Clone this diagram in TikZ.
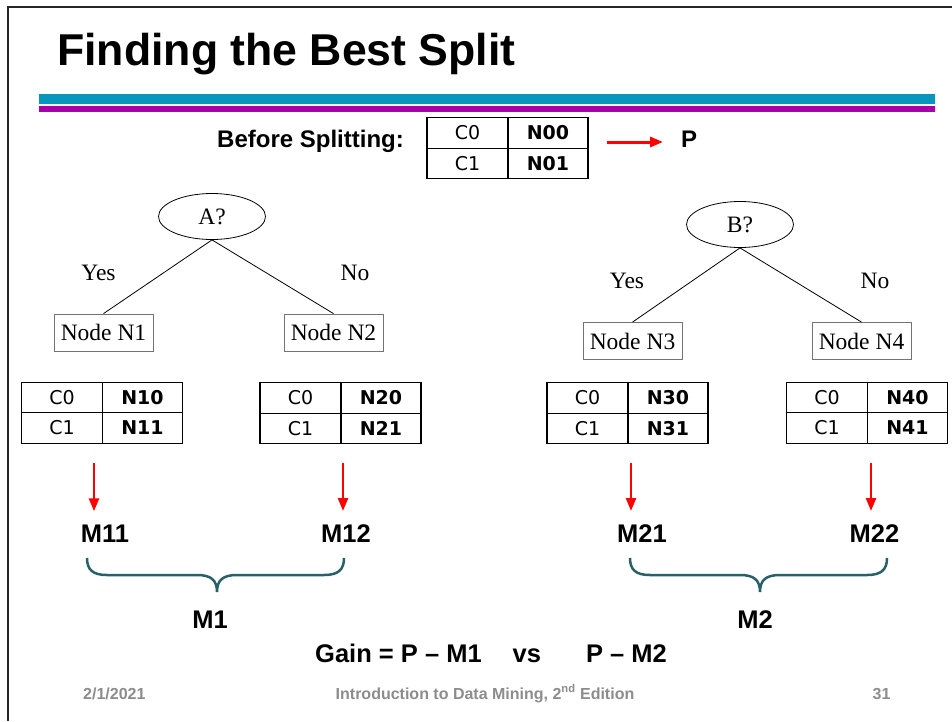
\documentclass[tikz,border=0pt]{standalone}
\usepackage{xcolor}
\usepackage{fontspec}
\setmainfont{Liberation Sans}
\newfontfamily\tablefont{DejaVu Sans}
\newfontfamily\treefont{Liberation Serif}
\usepackage{tikz}
\usetikzlibrary{shapes.geometric}
\usetikzlibrary{arrows.meta}
\usetikzlibrary{positioning}
\definecolor{bracecol}{RGB}{40,96,104}
\definecolor{footgray}{RGB}{140,140,140}
\definecolor{cyandark}{RGB}{8,150,188}
\definecolor{cyanlight}{RGB}{34,198,230}
\definecolor{magdark}{RGB}{168,0,168}
\definecolor{maglight}{RGB}{245,0,245}
\newcommand{\setsz}[1]{\fontsize{#1}{#1}\selectfont}
\newcommand{\counttable}[4]{%
	\node[cellL] (#1c0) at #2 {C0};
	\node[cellR,right=0pt of #1c0] (#1n0) {\textbf{#3}};
	\node[cellL,below=0pt of #1c0] (#1c1) {C1};
	\node[cellR,below=0pt of #1n0] (#1n1) {\textbf{#4}};
}

\begin{document}
\begin{tikzpicture}[x=1pt,y=-1pt]
			
			\tikzstyle{cellL} = [draw,line width=1.4pt,outer sep=0pt,inner sep=0pt,minimum width=81pt,minimum height=30.5pt,font=\tablefont\setsz{19}]
			\tikzstyle{cellR} = [cellL,minimum width=80pt]
			\tikzstyle{decision} = [ellipse,draw,line width=0.8pt,minimum width=107pt,minimum height=46pt,inner sep=0pt,font=\treefont\setsz{23.5}]
			\tikzstyle{treebox} = [draw=black!55,line width=0.8pt,minimum width=99pt,minimum height=37pt,inner sep=0pt,font=\treefont\setsz{23.5}]
			\tikzstyle{treelabel} = [anchor=base,inner sep=0pt,font=\treefont\setsz{23.5}]
			\tikzstyle{mlabel} = [anchor=base,inner sep=0pt,font=\bfseries\setsz{25.5}]
			\tikzstyle{foot} = [inner sep=0pt,text=footgray,font=\bfseries\setsz{16}]
			\tikzstyle{redarrow} = [red,line width=2.5pt,-{Triangle[length=13pt,width=10pt]}]
			
			\useasboundingbox (0,0) rectangle (952,721);
			
			% slide frame and header bars
			\draw[line width=2.3pt,black!85] (952,7) -- (8,7) -- (8,721);
			\shade[top color=cyandark,middle color=cyanlight,bottom color=cyandark] (39,94) rectangle (935,103);
			\shade[left color=magdark,middle color=maglight,right color=magdark] (39,106) rectangle (935,111);
			
			\node[anchor=base west,inner sep=0pt,font=\bfseries\setsz{44.6}] (title) at (57,65) {Finding the Best Split};
			
			\node[anchor=base west,inner sep=0pt,font=\bfseries\setsz{24}] (before) at (217,147) {Before Splitting:};
			\counttable{t0}{(467.5,133)}{N00}{N01}
			\node[anchor=base west,inner sep=0pt,font=\bfseries\setsz{24}] (P) at (681,147) {P};
			\coordinate (p0) at (607,142);
			\draw[redarrow,line width=3pt,shorten >=18pt] (p0) -- (p0 -| P.west);
			
			% split on A
			\node[decision] (A) at (212,216.5) {A?};
			\node[treebox] (n1) at (103.5,332.5) {Node N1};
			\node[treebox] (n2) at (333.5,332.5) {Node N2};
			\draw[line width=0.8pt] (A.south) -- (n1.north);
			\draw[line width=0.8pt] (A.south) -- (n2.north);
			\node[treelabel] (yesA) at (98.5,280) {Yes};
			\node[treelabel] (noA) at (355,280) {No};
			
			% split on B
			\node[decision] (B) at (740,224.5) {B?};
			\node[treebox] (n3) at (632.5,341) {Node N3};
			\node[treebox] (n4) at (861.5,341) {Node N4};
			\draw[line width=0.8pt] (B.south) -- (n3.north);
			\draw[line width=0.8pt] (B.south) -- (n4.north);
			\node[treelabel] (yesB) at (627,288) {Yes};
			\node[treelabel] (noB) at (875,288) {No};
			
			\counttable{t1}{(62,397.5)}{N10}{N11}
			\counttable{t2}{(300.5,398)}{N20}{N21}
			\counttable{t3}{(587.5,398)}{N30}{N31}
			\counttable{t4}{(827,397.5)}{N40}{N41}
			
			\node[mlabel] (m11) at (105,542) {M11};
			\node[mlabel] (m12) at (346,542) {M12};
			\node[mlabel] (m21) at (642,542) {M21};
			\node[mlabel] (m22) at (874.5,542) {M22};
			\foreach \x/\m in {94/m11,343/m12,631/m21,871/m22} {
				\coordinate (s\m) at (\x,463);
				\draw[redarrow,shorten >=13pt] (s\m) -- (s\m |- \m.north);
			}
			
			%\draw (87,558) -- (344,558);
			\foreach \dx in {0,543} {
				\draw[bracecol,line width=2.5pt,shift={(\dx,0)}] (87,558) .. controls (87,570) and (93,575) .. (107,575) -- (197,575) .. controls (211,575) and (217,580) .. (217,592) .. controls (217,580) and (223,575) .. (237,575) -- (324,575) .. controls (338,575) and (344,570) .. (344,558);
			}
			\node[mlabel] (m1) at (210,628) {M1};
			\node[mlabel] (m2) at (755,628) {M2};
			
			\node[anchor=base west,inner sep=0pt,font=\bfseries\setsz{25.5}] (gain) at (315,662) {Gain = P – M1\hspace{31pt}vs\hspace{45pt}P – M2};
			
			\node[foot,anchor=base west] (date) at (83,699) {2/1/2021};
			\node[foot,anchor=base] (book) at (485,699) {Introduction to Data Mining, 2\textsuperscript{nd} Edition};
			\node[foot,anchor=base] (page) at (881.5,699) {31};
		\end{tikzpicture}
\end{document}
